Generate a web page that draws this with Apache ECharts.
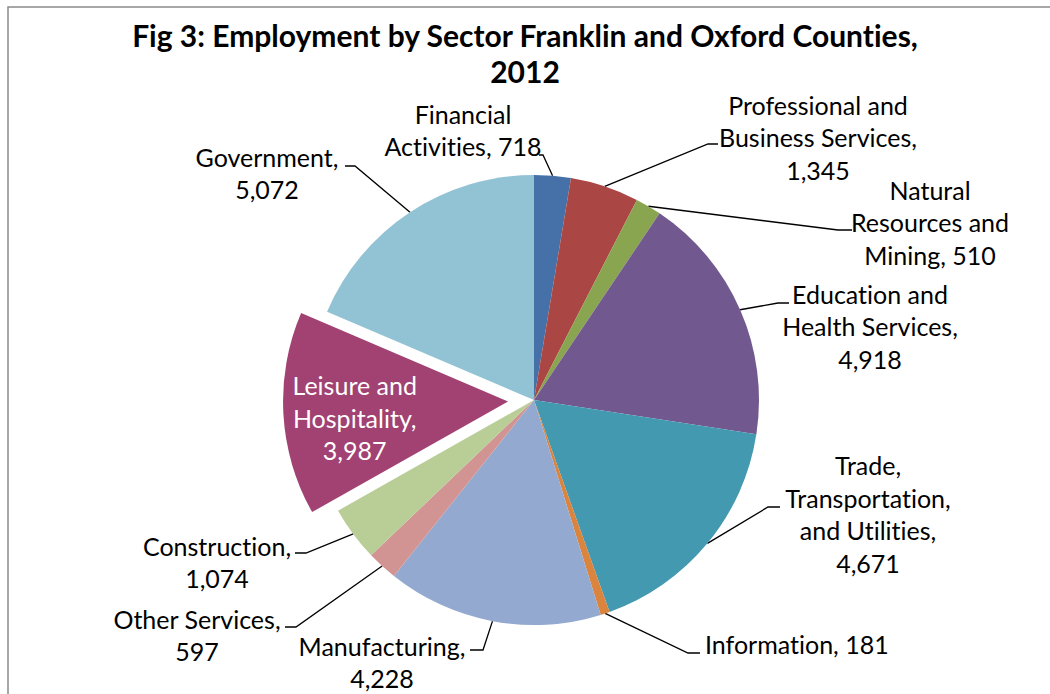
<!DOCTYPE html>
<html>
<head>
<meta charset="utf-8">
<script src="https://cdn.jsdelivr.net/npm/echarts@6/dist/echarts.min.js"></script>
<style>
  html, body { margin: 0; padding: 0; background: #fff; }
  #chart { width: 1050px; height: 694px; }
  #chart text { font-variant-ligatures: none; font-feature-settings: "liga" 0, "clig" 0; }
</style>
</head>
<body>
<div id="chart"></div>
<script>
// Employment by sector, clockwise from 12 o'clock
const sectors = [
  'Financial Activities',
  'Professional and Business Services',
  'Natural Resources and Mining',
  'Education and Health Services',
  'Trade, Transportation, and Utilities',
  'Information',
  'Manufacturing',
  'Other Services',
  'Construction',
  'Leisure and Hospitality',
  'Government'
];
const employment = [718, 1345, 510, 4918, 4671, 181, 4228, 597, 1074, 3987, 5072];

// Label text as wrapped in the chart (value appended after)
const labelHeads = [
  'Financial\nActivities, ',
  'Professional and\nBusiness Services,\n',
  'Natural\nResources and\nMining, ',
  'Education and\nHealth Services,\n',
  'Trade,\nTransportation,\nand Utilities,\n',
  'Information, ',
  'Manufacturing,\n',
  'Other Services,\n',
  'Construction,\n',
  'Leisure and\nHospitality,\n',
  'Government,\n'
];

const sliceColors = ['#4571A8', '#AA4744', '#8AA54F', '#71588F', '#4299B0', '#DB843D',
                     '#94A9CF', '#D19493', '#B9CD97', '#A14272', '#92C3D5'];

const explodedIndex = 9;

// Pie geometry
const CX = 534, CY = 400, R = 225;

// Label block anchors and leader elbow/end points
const labelBox = [
  { x: 463, y: 130, elbow: [543, 155], end: [539, 155] },
  { x: 818, y: 137, elbow: [708, 144], end: [718, 144] },
  { x: 930, y: 222, elbow: [838, 230], end: [852, 230] },
  { x: 870, y: 326, elbow: [778, 303], end: [789, 303] },
  { x: 868, y: 514, elbow: [768, 507], end: [780, 507] },
  { x: 705, y: 644, align: 'left', elbow: [688, 653], end: [700, 653] },
  { x: 382, y: 662, elbow: [483, 650], end: [470, 650] },
  { x: 197, y: 635, elbow: [296, 627], end: [285, 627] },
  { x: 217, y: 562, elbow: [306, 553], end: [295, 553] },
  { inside: true, padding: [20, 76, 0, 0], dy: 10 },
  { x: 267, y: 173, elbow: [355, 166], end: [345, 166] }
];

const total = employment.reduce((a, b) => a + b, 0);
function midAngle(i) {
  let before = 0;
  for (let k = 0; k < i; k++) before += employment[k];
  return (before + employment[i] / 2) / total * Math.PI * 2; // clockwise from top
}
function fmt(v) { return v.toLocaleString('en-US'); }

const FONT = 'Lato, "Open Sans", sans-serif';

const chart = echarts.init(document.getElementById('chart'), null, { renderer: 'svg' });

chart.setOption({
  animation: false,
  backgroundColor: '#ffffff',
  title: {
    text: 'Fig 3: Employment by Sector Franklin and Oxford Counties,\n2012',
    left: 'center',
    top: 12,
    textStyle: {
      fontFamily: FONT,
      fontWeight: 'bold',
      fontSize: 30,
      lineHeight: 36,
      color: '#000'
    }
  },
  graphic: [{
    type: 'rect',
    shape: { x: 8, y: 7, width: 1100, height: 760 },
    style: { fill: null, stroke: '#8a8a8a', lineWidth: 1.5 },
    silent: true,
    z: -1
  }],
  series: [{
    type: 'pie',
    center: [CX, CY],
    radius: R,
    startAngle: 90,
    clockwise: true,
    selectedMode: 'single',
    selectedOffset: 26,
    emphasis: { disabled: true },
    itemStyle: { borderWidth: 0 },
    label: {
      show: true,
      position: 'outside',
      fontFamily: FONT,
      fontSize: 25,
      lineHeight: 32.5,
      color: '#000',
      align: 'center',
      formatter: p => labelHeads[p.dataIndex] + fmt(p.value)
    },
    labelLine: {
      show: true,
      lineStyle: { color: '#000', width: 1.3 }
    },
    labelLayout: function (params) {
      const i = params.dataIndex;
      const b = labelBox[i];
      if (b.inside) return { dy: b.dy };
      const a = midAngle(i);
      const start = [CX + R * Math.sin(a), CY - R * Math.cos(a)];
      return {
        x: b.x, y: b.y, align: b.align || 'center', verticalAlign: 'middle',
        labelLinePoints: [start, b.elbow, b.end]
      };
    },
    data: sectors.map((name, i) => {
      const d = {
        name: name,
        value: employment[i],
        itemStyle: { color: sliceColors[i] }
      };
      if (i === explodedIndex) {
        d.selected = true;
        d.label = { position: 'inside', color: '#fff', padding: labelBox[i].padding };
        d.labelLine = { show: false };
      }
      return d;
    })
  }]
});
</script>
</body>
</html>
